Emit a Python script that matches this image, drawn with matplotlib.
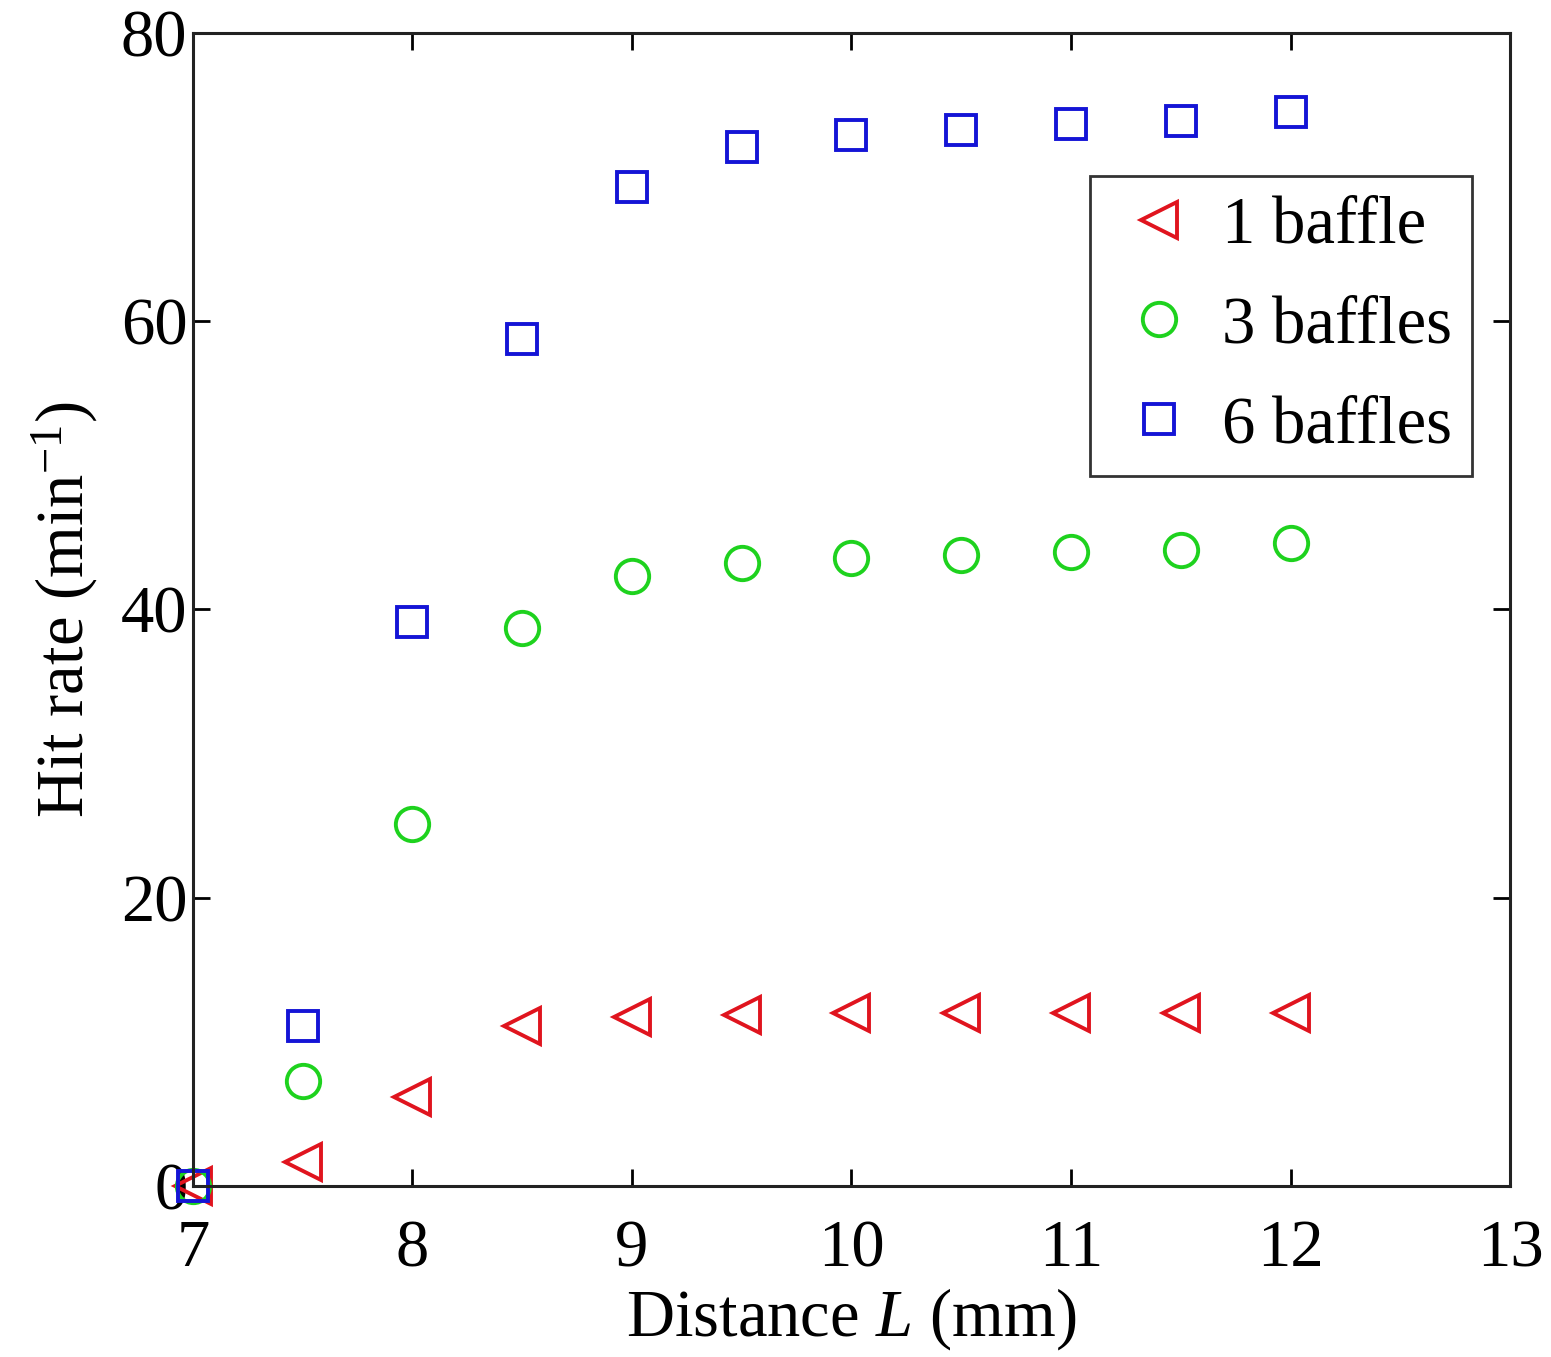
import matplotlib
matplotlib.use("Agg")
import matplotlib.pyplot as plt

# hit rate vs baffle distance
distance = [7, 7.5, 8, 8.5, 9, 9.5, 10, 10.5, 11, 11.5, 12]
one_baffle = [0, 1.7, 6.2, 11.1, 11.7, 11.9, 12.0, 12.0, 12.0, 12.0, 12.0]
three_baffles = [0, 7.3, 25.1, 38.7, 42.3, 43.2, 43.6, 43.8, 44.0, 44.1, 44.6]
six_baffles = [0, 11.1, 39.1, 58.8, 69.3, 72.1, 72.9, 73.3, 73.7, 73.9, 74.5]

xticks = [7, 8, 9, 10, 11, 12, 13]
yticks = [0, 20, 40, 60, 80]

plt.rcParams["font.family"] = ["Liberation Serif", "DejaVu Serif"]
plt.rcParams["mathtext.fontset"] = "custom"
plt.rcParams["mathtext.rm"] = "Liberation Serif"
plt.rcParams["mathtext.it"] = "Liberation Serif:italic"

fig = plt.figure(figsize=(15.51, 13.57), dpi=100)
ax = fig.add_axes([0.1244, 0.1260, 0.8492, 0.8497])

ax.plot(distance, one_baffle, "<", ls="none", ms=26, mfc="none", mec="#e0141e", mew=2.8, label="1 baffle", clip_on=False)
ax.plot(distance, three_baffles, "o", ls="none", ms=24, mfc="none", mec="#1ed21e", mew=2.8, label="3 baffles", clip_on=False)
ax.plot(distance, six_baffles, "s", ls="none", ms=21, mfc="none", mec="#1414d6", mew=2.8, label="6 baffles", clip_on=False)

ax.set_xlim(7, 13)
ax.set_ylim(0, 80)
ax.set_xticks(xticks)
ax.set_yticks(yticks)
ax.tick_params(direction="in", length=12, width=2, top=True, right=True, labelsize=48)
ax.tick_params(axis="x", pad=24)
ax.tick_params(axis="y", pad=4)
for s in ax.spines.values():
    s.set_linewidth(2.2)
    s.set_color("#222222")

ax.set_xlabel("Distance $\\mathit{L}$ (mm)", fontsize=48, labelpad=4)
ax.set_ylabel("Hit rate (min$^{-1}$)", fontsize=48, labelpad=15)

leg = ax.legend(loc="upper right", bbox_to_anchor=(0.9711, 0.876), fontsize=48,
                frameon=True, fancybox=False, edgecolor="black", handlelength=1.47,
                handletextpad=0.21, borderpad=0.3, labelspacing=0.58, borderaxespad=0)
leg.get_frame().set_linewidth(2)

plt.savefig("out.png", dpi=100)
